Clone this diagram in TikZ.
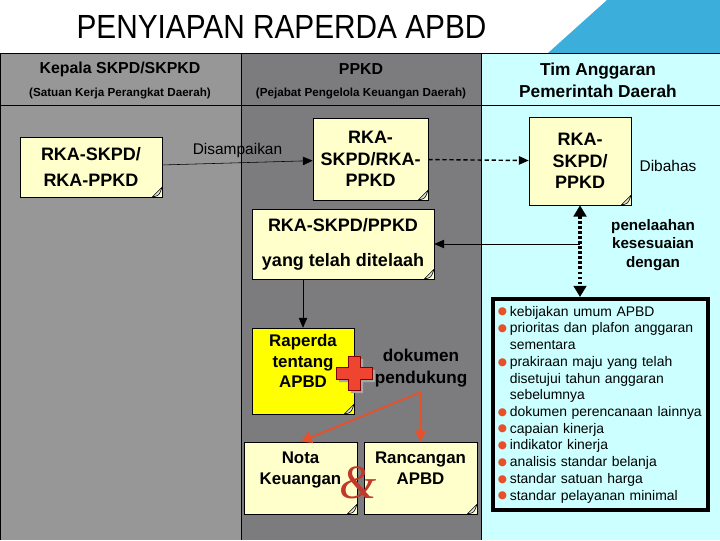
\documentclass[tikz,border=0pt]{standalone}
\usepackage{fontspec}
\usepackage{graphicx}
\setmainfont{Liberation Sans}
\newfontfamily\ampfont{Liberation Serif}
\newfontfamily\symfont{DejaVu Sans}
\usetikzlibrary{arrows.meta}

\definecolor{colleft}{HTML}{979797}
\definecolor{colmid}{HTML}{7C7C7F}
\definecolor{colright}{HTML}{CCFFFF}
\definecolor{topblue}{HTML}{3BAEDC}
\definecolor{notefill}{HTML}{FFFFCC}
\definecolor{rapyellow}{HTML}{FFFF00}
\definecolor{bulred}{HTML}{E8502A}
\definecolor{plusred}{HTML}{EE4430}
\definecolor{ampred}{HTML}{C0392B}

\newcommand{\bulitem}{\makebox[8.5pt][l]{\raisebox{0.9pt}{\textcolor{bulred}{\symfont\fontsize{7.5}{9}\selectfont ●}}}}
\newcommand{\bulcont}{\hspace*{8.5pt}}
\newcommand{\lowpad}{\rule[-14pt]{0pt}{0pt}}

\begin{document}
\begin{tikzpicture}[x=0.025cm, y=-0.025cm,
  >={Triangle[length=7pt,width=6pt]},
  docbox/.style={draw, fill=notefill, align=center, inner sep=2pt,
    font=\bfseries\fontsize{12.8}{15.5}\selectfont,
    path picture={\draw[fill=black!12] ([xshift=-7pt]path picture bounding box.south east)
      .. controls ([shift={(-2pt,1pt)}]path picture bounding box.south east) ..
      ([yshift=7pt]path picture bounding box.south east) -- cycle;}},
  headbig/.style={font=\bfseries\fontsize{11.3}{15}\selectfont},
  headright/.style={font=\bfseries\fontsize{12.3}{15.6}\selectfont, align=center},
  headsmall/.style={font=\bfseries\fontsize{8.3}{10}\selectfont},
  lbltext/.style={font=\fontsize{11}{13}\selectfont},
  sidetext/.style={font=\bfseries\fontsize{10.8}{13.1}\selectfont, align=center},
  redarrow/.style={->, draw=bulred, line width=1.3pt, >={Triangle[length=8pt,width=8pt]}}]
\useasboundingbox (0,0) rectangle (720,540);

% title and corner
\node (title) at (281.5,27) {\scalebox{0.89}[1]{\fontsize{23.8}{28}\selectfont PENYIAPAN RAPERDA APBD}};
\fill[topblue] (548,53) -- (607,0) -- (720,0) -- (720,53) -- cycle;

% columns
\fill[colleft] (0,53) rectangle (241,540);
\fill[colmid] (241,53) rectangle (481,540);
\fill[colright] (481,53) rectangle (720,540);
\draw (0,540) -- (0,53) -- (720,53);
\draw (0,105) -- (720,105);
\draw (241,53) -- (241,540);
\draw (481,53) -- (481,540);

% headers
\node[headbig] (skpd) at (120,69) {Kepala SKPD/SKPKD};
\node[headsmall] (skpdsub) at (120,94) {(Satuan Kerja Perangkat Daerah)};
\node[headbig] (ppkd) at (361,69) {PPKD};
\node[headsmall] (ppkdsub) at (361,94) {(Pejabat Pengelola Keuangan Daerah)};
\node[headright] (tapd) at (598,80) {Tim Anggaran\\Pemerintah Daerah};

% documents
\node[docbox, minimum width=3.55cm, minimum height=1.5cm,
  font=\bfseries\fontsize{12.8}{18.4}\selectfont] (rkaa) at (91,167) {RKA-SKPD/\\RKA-PPKD};
\node[docbox, minimum width=2.875cm, minimum height=2.05cm] (rkab) at (370.5,159) {RKA-\\SKPD/RKA-\\PPKD};
\node[docbox, minimum width=2.55cm, minimum height=2.2cm] (rkac) at (580,161) {RKA-\\SKPD/\\PPKD};
\node[docbox, minimum width=4.55cm, minimum height=1.75cm,
  font=\bfseries\fontsize{12.8}{24.8}\selectfont] (rkad) at (343,244) {RKA-SKPD/PPKD\\yang telah ditelaah};
\node[docbox, fill=rapyellow, minimum width=2.55cm, minimum height=2.15cm,
  font=\bfseries\fontsize{12}{14.5}\selectfont] (raperda) at (303,371) {Raperda\\tentang\\APBD\lowpad};
\node[docbox, minimum width=2.825cm, minimum height=1.8cm,
  font=\bfseries\fontsize{12}{15.6}\selectfont] (nota) at (300.5,478) {Nota\\Keuangan\lowpad};
\node[docbox, minimum width=2.825cm, minimum height=1.8cm,
  font=\bfseries\fontsize{12}{15.6}\selectfont] (rancangan) at (420.5,478) {Rancangan\\APBD\lowpad};

% texts
\node[lbltext] (dibahas) at (668,166) {Dibahas};
\node[sidetext] (telaah) at (653,245) {penelaahan\\kesesuaian\\dengan};
\node[font=\bfseries\fontsize{12.2}{15.6}\selectfont, align=center] (pendukung) at (421,368) {dokumen\\pendukung};

% list
\node[draw, line width=2.8pt, fill=colright, align=left, text width=146pt,
  inner xsep=3.5pt, minimum height=5.275cm,
  font=\fontsize{9.9}{11.9}\selectfont] (acuan) at (600.5,404.5) {%
\bulitem kebijakan umum APBD\\
\bulitem prioritas dan plafon anggaran\\
\bulcont sementara\\
\bulitem prakiraan maju yang telah\\
\bulcont disetujui tahun anggaran\\
\bulcont sebelumnya\\
\bulitem dokumen perencanaan lainnya\\
\bulitem capaian kinerja\\
\bulitem indikator kinerja\\
\bulitem analisis standar belanja\\
\bulitem standar satuan harga\\
\bulitem standar pelayanan minimal};

% plus and ampersand
\begin{scope}[shift={(357,376)}]
\fill[black!35] (-6,-17) -- (6,-17) -- (6,-6) -- (18,-6) -- (18,6) -- (6,6) -- (6,17)
  -- (-6,17) -- (-6,6) -- (-18,6) -- (-18,-6) -- (-6,-6) -- cycle;
\end{scope}
\begin{scope}[shift={(354,373)}]
\draw[fill=plusred, draw=red!50!black, line width=0.5pt] (-6,-17) -- (6,-17) -- (6,-6) -- (18,-6)
  -- (18,6) -- (6,6) -- (6,17) -- (-6,17) -- (-6,6) -- (-18,6) -- (-18,-6) -- (-6,-6) -- cycle;
\end{scope}
\node[text=ampred] (amp) at (358,483) {\ampfont\itshape\fontsize{34}{34}\selectfont\&};

% connectors
\draw[->] (rkaa) -- (rkab) node[midway, above, lbltext] (kirim) {Disampaikan};
\draw[->, line width=1pt, dash pattern=on 3pt off 2pt] (rkab) -- (rkac);
\draw[<->, line width=2.2pt, dash pattern=on 2pt off 1.6pt,
  >={Triangle[length=8pt,width=9pt]}] (rkac.south) -- (rkac.south |- acuan.north);
\coordinate (tap) at (rkac.south |- rkad.east);
\draw[->] (tap) -- (rkad.east);
\draw[->] (rkad.south -| raperda.north) -- (raperda.north);
\draw[redarrow] (pendukung.south) -- (nota.north);
\draw[redarrow] (pendukung.south) -- (rancangan.north);
\end{tikzpicture}
\end{document}
